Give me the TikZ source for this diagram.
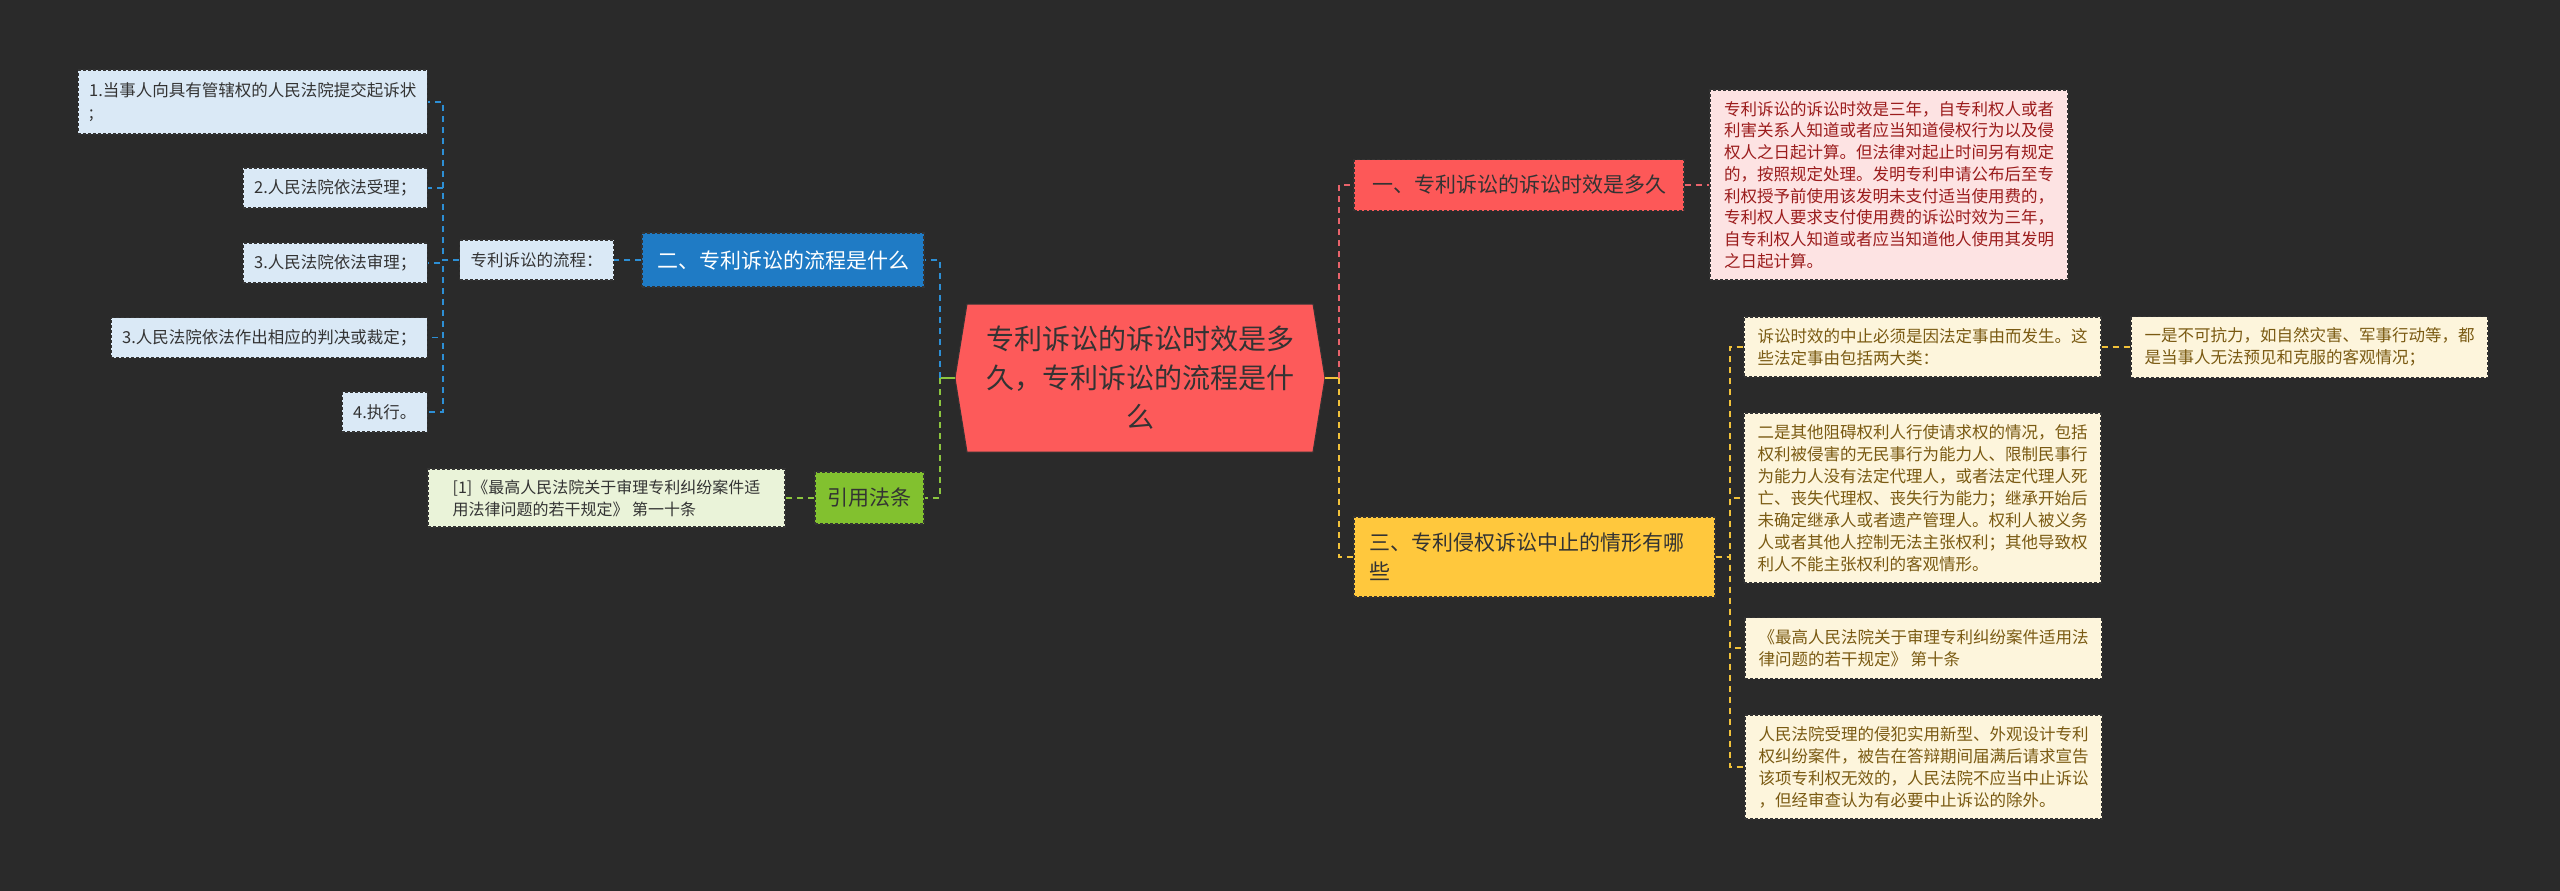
\documentclass[tikz,border=0pt]{standalone}
\usepackage{fontspec}
\newfontfamily\cjk{Noto Sans CJK SC}
\definecolor{bgc}{HTML}{2A2A2A}
\definecolor{bordc}{HTML}{333333}
\definecolor{lblue}{HTML}{DAE9F6}
\definecolor{dblue}{HTML}{1F7BC5}
\definecolor{cblue}{HTML}{2D8FD5}
\definecolor{lgreen}{HTML}{EAF3D9}
\definecolor{dgreen}{HTML}{82C12F}
\definecolor{cgreen}{HTML}{8CC63F}
\definecolor{ctrred}{HTML}{FD5A5A}
\definecolor{dred}{HTML}{FD5858}
\definecolor{cred}{HTML}{E8636B}
\definecolor{lpink}{HTML}{FDE3E3}
\definecolor{tred}{HTML}{9B1C1C}
\definecolor{dyel}{HTML}{FFC83D}
\definecolor{lyel}{HTML}{FDF5DC}
\definecolor{cyel}{HTML}{F2C23A}
\definecolor{tyel}{HTML}{7A5A12}
\definecolor{tdark}{HTML}{333333}
\begin{document}
\begin{tikzpicture}[x=1pt,y=-1pt,
  boxbase/.style={draw=bordc, dash pattern=on 3pt off 2pt, line width=1.1pt, inner xsep=10pt, inner ysep=4pt, align=left},
  lbox/.style={boxbase, fill=lblue, text=tdark, inner xsep=11pt, minimum height=40pt, font={\cjk\fontsize{16.5}{22}\selectfont}},
  gbox/.style={boxbase, fill=lgreen, text=tdark, font={\cjk\fontsize{16}{22}\selectfont}},
  pbox/.style={boxbase, fill=lpink, text=tred, font={\cjk\fontsize{16.5}{21.7}\selectfont}},
  ybox/.style={boxbase, fill=lyel, text=tyel, minimum width=357pt, font={\cjk\fontsize{16.5}{22}\selectfont}},
  bnode/.style={boxbase, fill=dblue, text=white, font={\cjk\fontsize{21}{28}\selectfont}},
  gnode/.style={boxbase, fill=dgreen, text=tdark, font={\cjk\fontsize{21}{28}\selectfont}},
  rnode/.style={boxbase, fill=dred, text=tdark, font={\cjk\fontsize{21}{28}\selectfont}},
  ynode/.style={boxbase, fill=dyel, text=tdark, inner xsep=15pt, font={\cjk\fontsize{21}{29}\selectfont}},
  ctext/.style={align=center, text=tdark, inner sep=0pt, font={\cjk\fontsize{28}{39}\selectfont}},
  conn/.style={line width=1.8pt, dash pattern=on 6pt off 5pt},
  bconn/.style={conn, draw=cblue},
  gconn/.style={conn, draw=cgreen},
  rconn/.style={conn, draw=cred},
  yconn/.style={conn, draw=cyel},
]
\fill[bgc] (0,0) rectangle (2560,891);
\useasboundingbox (0,0) rectangle (2560,891);

% center
\filldraw[fill=ctrred, draw=bordc, line width=1pt] (967,304) -- (1313,304) -- (1325,378) -- (1313,452) -- (967,452) -- (955,378) -- cycle;
\node[ctext] (ctr) at (1140,378) {专利诉讼的诉讼时效是多\\久，专利诉讼的流程是什\\么};
\coordinate (cL) at (955,378);
\coordinate (cR) at (1325,378);
\coordinate (lj) at (940,378);
\coordinate (rj) at (1339,378);

% left branch
\node[lbox, anchor=east, minimum height=64pt] (b1) at (428,102) {1.当事人向具有管辖权的人民法院提交起诉状\\;};
\node[lbox, anchor=east] (b2) at (428,188) {2.人民法院依法受理；};
\node[lbox, anchor=east] (b3) at (428,263) {3.人民法院依法审理；};
\node[lbox, anchor=east] (b4) at (428,337.5) {3.人民法院依法作出相应的判决或裁定；};
\node[lbox, anchor=east] (b5) at (428,412) {4.执行。};
\node[lbox, anchor=west] (flow) at (459,260) {专利诉讼的流程：};
\coordinate (fj) at (443,260);
\node[bnode, minimum width=282pt, minimum height=54pt] (blue) at (783,260) {二、专利诉讼的流程是什么};
\node[gnode, minimum width=109pt, minimum height=52pt] (green) at (869.5,498) {引用法条};
\node[gbox, minimum width=357pt, minimum height=58pt] (cite) at (606.5,498) {[1]《最高人民法院关于审理专利纠纷案件适\\用法律问题的若干规定》 第一十条};

% right branch
\node[rnode, minimum width=330pt, minimum height=51pt] (red) at (1519,185) {一、专利诉讼的诉讼时效是多久};
\node[pbox, minimum width=358pt, minimum height=190pt] (pink) at (1889,185) {专利诉讼的诉讼时效是三年，自专利权人或者\\利害关系人知道或者应当知道侵权行为以及侵\\权人之日起计算。但法律对起止时间另有规定\\的，按照规定处理。发明专利申请公布后至专\\利权授予前使用该发明未支付适当使用费的，\\专利权人要求支付使用费的诉讼时效为三年，\\自专利权人知道或者应当知道他人使用其发明\\之日起计算。};
\node[ynode, minimum height=80pt, text width=331pt] (yel) at (1534.5,557) {三、专利侵权诉讼中止的情形有哪\\些};
\coordinate (yj) at (1730,557);
\node[ybox, minimum height=60pt] (yA) at (1922.5,347) {诉讼时效的中止必须是因法定事由而发生。这\\些法定事由包括两大类：};
\node[ybox, minimum height=61pt] (yOne) at (2309.5,347) {一是不可抗力，如自然灾害、军事行动等，都\\是当事人无法预见和克服的客观情况；};
\node[ybox, minimum height=170pt] (yB) at (1922.5,498) {二是其他阻碍权利人行使请求权的情况，包括\\权利被侵害的无民事行为能力人、限制民事行\\为能力人没有法定代理人，或者法定代理人死\\亡、丧失代理权、丧失行为能力；继承开始后\\未确定继承人或者遗产管理人。权利人被义务\\人或者其他人控制无法主张权利；其他导致权\\利人不能主张权利的客观情形。};
\node[ybox, minimum height=61pt] (yC) at (1923.5,648) {《最高人民法院关于审理专利纠纷案件适用法\\律问题的若干规定》 第十条};
\node[ybox, minimum height=104pt] (yD) at (1923.5,767) {人民法院受理的侵犯实用新型、外观设计专利\\权纠纷案件，被告在答辩期间届满后请求宣告\\该项专利权无效的，人民法院不应当中止诉讼\\，但经审查认为有必要中止诉讼的除外。};

% connectors
\draw[line width=1.8pt, cgreen] (cL) -- (lj);
\draw[bconn] (lj) |- (blue.east);
\draw[gconn] (lj) |- (green.east);
\draw[bconn] (blue.west) -- (flow.east);
\draw[gconn] (green.west) -- (cite.east);
\foreach \b in {b1,b2,b3,b4,b5} \draw[bconn] (flow.west) -- (fj) |- (\b.east);

\draw[line width=1.8pt, cyel] (cR) -- (rj);
\draw[rconn] (rj) |- (red.west);
\draw[yconn] (rj) |- (yel.west);
\draw[rconn] (red.east) -- (pink.west);
\foreach \b in {yA,yB,yC,yD} \draw[yconn] (yel.east) -- (yj) |- (\b.west);
\draw[yconn] (yA.east) -- (yOne.west);
\end{tikzpicture}
\end{document}
